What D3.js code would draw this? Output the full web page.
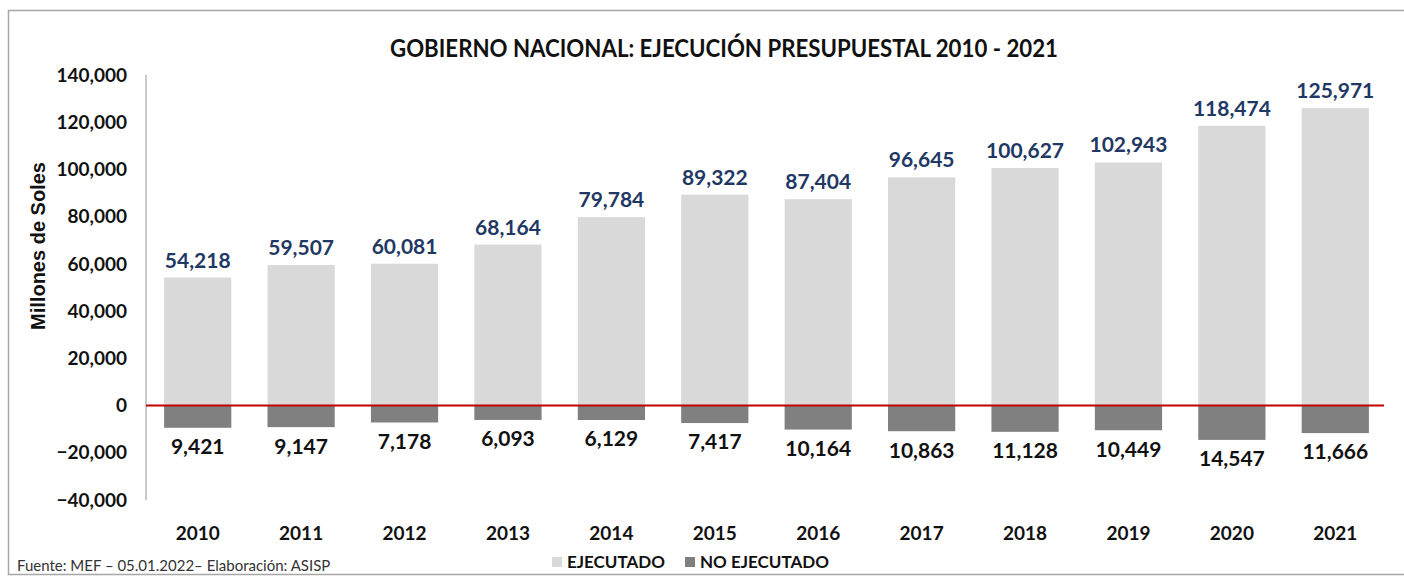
<!DOCTYPE html>
<html>
<head>
<meta charset="utf-8">
<script src="https://cdn.jsdelivr.net/npm/d3@7"></script>
<style>
  body { margin: 0; background: #fff; }
  svg { display: block; }
  text { font-family: Lato, "Open Sans", sans-serif; }
</style>
</head>
<body>
<svg width="1404" height="576"></svg>
<script>
/* Data */
var years = ["2010", "2011", "2012", "2013", "2014", "2015", "2016", "2017", "2018", "2019", "2020", "2021"];
var ejecutado = [54218, 59507, 60081, 68164, 79784, 89322, 87404, 96645, 100627, 102943, 118474, 125971];
var noEjecutado = [9421, 9147, 7178, 6093, 6129, 7417, 10164, 10863, 11128, 10449, 14547, 11666];
var yTicks = [-40000, -20000, 0, 20000, 40000, 60000, 80000, 100000, 120000, 140000];

var colors = { ejec: "#d9d9d9", noEjec: "#808080", label: "#1f3864", zero: "#c00000" };

var svg = d3.select("svg");

// Outer frame
svg.append("rect")
    .attr("x", 8.5).attr("y", 10.5)
    .attr("width", 1420).attr("height", 564)
    .attr("fill", "none")
    .attr("stroke", "#a6a6a6")
    .attr("stroke-width", 1.5);

// Scales
var x = d3.scaleBand()
    .domain(years)
    .range([146, 1387])
    .paddingInner(0.35)
    .paddingOuter(0.175);

var y = d3.scaleLinear()
    .domain([-40000, 140000])
    .range([500, 75]);

// Axis line
svg.append("line")
    .attr("x1", 146).attr("x2", 146)
    .attr("y1", y(140000)).attr("y2", y(-40000))
    .attr("stroke", "#a6a6a6").attr("stroke-width", 1.2);

// Y tick labels
svg.selectAll(".ytick")
    .data(yTicks)
    .enter().append("text")
    .attr("class", "ytick")
    .attr("x", 127)
    .attr("y", function(d){ return y(d); })
    .attr("dy", "0.35em")
    .attr("text-anchor", "end")
    .style("font-size", "19px")
    .style("font-weight", "bold")
    .style("fill", "#111")
    .text(function(d){ return d3.format(",")(d); });

// Y axis title
svg.append("text")
    .attr("transform", "translate(45," + 246 + ") rotate(-90)")
    .attr("text-anchor", "middle")
    .style("font-family", "'Liberation Sans', Arial, sans-serif")
    .style("font-size", "20px")
    .style("font-weight", "bold")
    .style("fill", "#111")
    .text("Millones de Soles");

// Ejecutado bars
svg.selectAll(".ejec")
    .data(years)
    .enter().append("rect")
    .attr("class", "ejec")
    .attr("x", function(d){ return x(d); })
    .attr("width", x.bandwidth())
    .attr("y", function(d, i){ return y(ejecutado[i]); })
    .attr("height", function(d, i){ return y(0) - y(ejecutado[i]); })
    .attr("fill", colors.ejec);

// No ejecutado bars (below zero)
svg.selectAll(".noejec")
    .data(years)
    .enter().append("rect")
    .attr("class", "noejec")
    .attr("x", function(d){ return x(d); })
    .attr("width", x.bandwidth())
    .attr("y", y(0))
    .attr("height", function(d, i){ return y(-noEjecutado[i]) - y(0); })
    .attr("fill", colors.noEjec);

// Zero line
svg.append("line")
    .attr("x1", 146).attr("x2", 1384)
    .attr("y1", y(0)).attr("y2", y(0))
    .attr("stroke", colors.zero).attr("stroke-width", 2);

// Value labels above
svg.selectAll(".vtop")
    .data(years)
    .enter().append("text")
    .attr("class", "vtop")
    .attr("x", function(d){ return x(d) + x.bandwidth()/2; })
    .attr("y", function(d, i){ return y(ejecutado[i]) - 10; })
    .attr("text-anchor", "middle")
    .style("font-size", "21px")
    .style("font-weight", "bold")
    .style("fill", colors.label)
    .text(function(d, i){ return d3.format(",")(ejecutado[i]); });

// Value labels below
svg.selectAll(".vbot")
    .data(years)
    .enter().append("text")
    .attr("class", "vbot")
    .attr("x", function(d){ return x(d) + x.bandwidth()/2; })
    .attr("y", function(d, i){ return y(-noEjecutado[i]) + 19; })
    .attr("dy", "0.35em")
    .attr("text-anchor", "middle")
    .style("font-size", "21px")
    .style("font-weight", "bold")
    .style("fill", "#111")
    .text(function(d, i){ return d3.format(",")(noEjecutado[i]); });

// Year labels
svg.selectAll(".year")
    .data(years)
    .enter().append("text")
    .attr("class", "year")
    .attr("x", function(d){ return x(d) + x.bandwidth()/2; })
    .attr("y", 533)
    .attr("dy", "0.35em")
    .attr("text-anchor", "middle")
    .style("font-size", "19px")
    .style("font-weight", "bold")
    .style("fill", "#111")
    .text(function(d){ return d; });

// Title
svg.append("text")
    .attr("x", 724).attr("y", 57)
    .attr("text-anchor", "middle")
    .attr("textLength", 668)
    .attr("lengthAdjust", "spacingAndGlyphs")
    .style("font-size", "25px")
    .style("font-weight", "bold")
    .style("fill", "#111")
    .text("GOBIERNO NACIONAL: EJECUCIÓN PRESUPUESTAL 2010 - 2021");

// Legend
var legend = [
    { name: "EJECUTADO", color: colors.ejec, x: 552 },
    { name: "NO EJECUTADO", color: colors.noEjec, x: 685 }
];
var lg = svg.selectAll(".legend")
    .data(legend)
    .enter().append("g")
    .attr("transform", function(d){ return "translate(" + d.x + ",562)"; });
lg.append("rect")
    .attr("x", 0).attr("y", -5)
    .attr("width", 10).attr("height", 10)
    .attr("fill", function(d){ return d.color; });
lg.append("text")
    .attr("x", 15).attr("dy", "0.35em")
    .style("font-size", "17px")
    .style("font-weight", "bold")
    .style("fill", "#111")
    .text(function(d){ return d.name; });

// Source
svg.append("text")
    .attr("x", 17).attr("y", 566)
    .attr("dy", "0.35em")
    .style("font-size", "15px")
    .style("fill", "#333")
    .text("Fuente: MEF – 05.01.2022– Elaboración: ASISP");
</script>
</body>
</html>
